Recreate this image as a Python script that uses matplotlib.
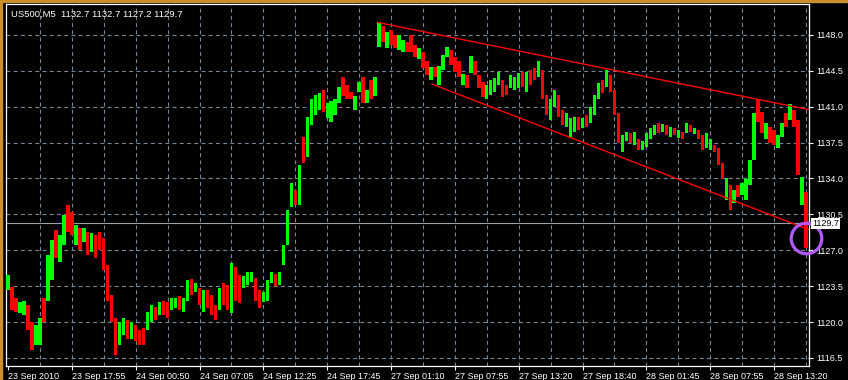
import matplotlib
matplotlib.use("Agg")
import matplotlib.pyplot as plt
import matplotlib.transforms as mtransforms
from matplotlib.patches import Rectangle
import numpy as np

# US500 M5 bars, one entry per ~4 five-minute bars
highs = [
    1124.6, 1123.4, 1122.3, 1122.0, 1122.1, 1121.7, 1120.0, 1119.7, 1120.4, 1122.3,
    1126.5, 1128.0, 1129.0, 1128.5, 1130.4, 1131.4, 1130.7, 1129.5, 1129.2, 1129.2,
    1128.8, 1128.7, 1128.5, 1128.8, 1128.2, 1125.6, 1122.6, 1120.4, 1120.0, 1120.4,
    1120.2, 1120.0, 1119.7, 1119.2, 1119.4, 1121.0, 1121.7, 1121.5, 1122.0, 1122.1,
    1122.0, 1122.3, 1122.3, 1122.5, 1122.3, 1124.1, 1124.2, 1123.8, 1123.3, 1123.1,
    1123.1, 1122.6, 1121.7, 1123.3, 1123.8, 1123.6, 1125.8, 1125.4, 1124.6, 1124.5,
    1124.9, 1124.9, 1124.3, 1123.1, 1122.9, 1124.1, 1124.9, 1124.7, 1124.9, 1127.5,
    1130.9, 1133.6, 1132.9, 1135.3, 1138.0, 1140.0, 1141.7, 1142.1, 1142.3, 1142.6,
    1141.4, 1141.5, 1141.7, 1142.9, 1143.9, 1143.1, 1142.4, 1142.0, 1143.4, 1143.9,
    1142.6, 1143.6, 1143.9, 1149.2, 1148.9, 1148.3, 1148.5, 1148.0, 1148.0, 1147.5,
    1147.3, 1148.0, 1147.0, 1146.7, 1146.3, 1145.4, 1144.9, 1144.9, 1145.0, 1146.0,
    1146.8, 1146.5, 1145.8, 1145.4, 1144.2, 1144.1, 1145.9, 1145.4, 1144.1, 1143.4,
    1143.1, 1143.6, 1143.8, 1144.4, 1143.6, 1143.1, 1144.1, 1143.9, 1144.3, 1144.4,
    1144.4, 1144.6, 1144.8, 1145.4, 1144.6, 1142.1, 1141.7, 1142.6, 1142.1, 1140.7,
    1140.4, 1139.9, 1140.0, 1140.0, 1139.9, 1140.2, 1141.0, 1142.1, 1143.3, 1143.6,
    1144.6, 1144.1, 1142.6, 1140.4, 1138.2, 1138.5, 1138.4, 1138.5, 1137.8, 1137.6,
    1138.4, 1138.9, 1139.2, 1139.4, 1139.3, 1139.2, 1139.0, 1138.9, 1138.7, 1138.5,
    1139.4, 1139.2, 1138.9, 1138.7, 1138.2, 1138.4, 1137.8, 1137.3, 1137.0, 1135.5,
    1134.0, 1133.4, 1132.9, 1133.4, 1133.6, 1133.9, 1135.8, 1140.4, 1141.7, 1140.5,
    1139.4, 1139.0, 1138.7, 1138.2, 1139.4, 1140.4, 1141.3, 1140.7, 1139.7, 1134.1,
    1132.7,
]
lows = [
    1123.1, 1121.2, 1121.0, 1120.9, 1120.7, 1119.2, 1117.3, 1117.8, 1117.8, 1120.0,
    1122.1, 1124.1, 1126.2, 1125.9, 1127.5, 1128.8, 1128.5, 1127.5, 1127.0, 1127.8,
    1126.5, 1126.8, 1126.2, 1127.0, 1125.1, 1122.1, 1120.0, 1116.8, 1117.8, 1118.7,
    1118.4, 1118.4, 1118.2, 1117.8, 1117.8, 1119.2, 1120.0, 1120.2, 1120.7, 1120.7,
    1120.4, 1121.2, 1121.4, 1121.2, 1121.0, 1122.1, 1122.6, 1122.9, 1121.7, 1121.0,
    1121.4, 1120.7, 1120.2, 1121.2, 1121.7, 1121.2, 1120.9, 1122.1, 1121.9, 1123.3,
    1123.6, 1123.9, 1122.1, 1121.4, 1122.0, 1122.1, 1123.8, 1123.5, 1123.6, 1125.6,
    1127.5, 1131.2, 1131.4, 1131.4, 1135.5, 1136.1, 1139.2, 1140.2, 1140.7, 1140.5,
    1139.9, 1139.5, 1140.2, 1141.4, 1142.0, 1141.7, 1141.7, 1140.7, 1142.4, 1141.4,
    1141.4, 1141.7, 1142.0, 1146.8, 1147.3, 1146.7, 1147.0, 1146.7, 1146.5, 1146.3,
    1146.3, 1146.3, 1145.8, 1145.6, 1144.8, 1144.1, 1143.6, 1143.9, 1143.1, 1144.6,
    1145.8, 1145.1, 1144.4, 1143.9, 1143.1, 1142.8, 1144.3, 1144.1, 1142.8, 1141.9,
    1141.7, 1142.1, 1142.4, 1143.1, 1141.9, 1142.1, 1142.8, 1142.6, 1142.8, 1142.9,
    1142.4, 1143.1, 1143.6, 1143.9, 1141.7, 1140.2, 1139.7, 1141.0, 1140.0, 1139.2,
    1139.0, 1138.0, 1138.5, 1138.7, 1138.9, 1139.0, 1139.4, 1140.2, 1141.7, 1142.3,
    1142.9, 1142.4, 1140.2, 1137.5, 1136.6, 1137.6, 1137.5, 1137.3, 1136.8, 1136.8,
    1137.1, 1137.8, 1138.2, 1138.4, 1138.5, 1138.2, 1138.0, 1138.2, 1137.9, 1137.8,
    1138.4, 1138.5, 1138.3, 1137.8, 1136.8, 1137.0, 1136.8, 1136.6, 1135.3, 1133.9,
    1131.9, 1130.9, 1131.6, 1132.2, 1132.4, 1131.9, 1133.4, 1135.8, 1139.5, 1138.4,
    1137.8, 1137.5, 1137.3, 1137.0, 1138.0, 1139.0, 1139.7, 1139.0, 1134.3, 1131.4,
    1127.2,
]
# g = bullish bar, r = bearish bar
direction = (
    "grrggrrggr" "ggrggrrgrg" "rgrrrrrrgg" "rgrrrggrgr" "rggrggrgrg"
    "rrrgrrgrrg" "ggrrgggrgg" "ggrgrggggr" "ggggrrrggr" "grggrgrrgg"
    "rrrgrrgrgg" "grrrgrgrrr" "ggggrrgggr" "grrgrrggrr" "gggrgrgggr"
    "grrrggrgrg" "gggrgrgrgr" "grgrrggrrr" "grgrggggrr" "grrggrgrrg"
    "r"
)

symbol = "US500,M5"
last_ohlc = [1132.7, 1132.7, 1127.2, 1129.7]
last_close = 1129.7

time_labels = ["23 Sep 2010", "23 Sep 17:55", "24 Sep 00:50", "24 Sep 07:05",
               "24 Sep 12:25", "24 Sep 17:45", "27 Sep 01:10", "27 Sep 07:55",
               "27 Sep 13:20", "27 Sep 18:40", "28 Sep 01:45", "28 Sep 07:55",
               "28 Sep 13:20"]
time_label_bars = [0, 16, 32, 48, 64, 80, 96, 112, 128, 144, 160, 176, 192]
price_ticks = [1116.5, 1120.0, 1123.5, 1127.0, 1130.5, 1134.0, 1137.5,
               1141.0, 1144.5, 1148.0]

# channel drawn on the chart: (bar, price) anchors
upper_trend = [(92.75, 1149.2), (200.75, 1140.7)]
lower_trend = [(106.25, 1143.2), (200.75, 1129.0)]
marker_point = (200, 1128.2)

plt.rcParams["font.family"] = ["Liberation Sans", "DejaVu Sans"]

fig = plt.figure(figsize=(8.48, 3.8), dpi=100, facecolor="black")
ax = fig.add_axes([6 / 848, 14 / 380, 803 / 848, 362 / 380], facecolor="black")

# orange window edge
fig.patches.append(Rectangle((0, 0), 2 / 848, 1, transform=fig.transFigure,
                             color="#C8912D", zorder=0))
fig.patches.append(Rectangle((0, 1 - 1.5 / 380), 1, 1.5 / 380,
                             transform=fig.transFigure, color="#C8912D", zorder=0))

x = np.arange(len(highs))
hi = np.array(highs)
lo = np.array(lows)
bar_colors = ["#00FF00" if d == "g" else "#FF0000" for d in direction]
ax.bar(x, hi - lo, bottom=lo, width=0.85, color=bar_colors, linewidth=0,
       antialiased=False, zorder=3)

ax.set_xlim(-0.5, 200.75)
ax.set_ylim(1115.72, 1151.0)

# grid
grid_kw = dict(color="#778899", linewidth=0.8, linestyle=(0, (3.5, 3)), zorder=1)
for p in price_ticks:
    ax.axhline(p, **grid_kw)
for b in range(8, 201, 8):
    ax.axvline(b, **grid_kw)

# current price line
ax.axhline(last_close, color="#9AA2AA", linewidth=0.8, zorder=2)

# trend lines
for line in (upper_trend, lower_trend):
    xs = [pt[0] for pt in line]
    ys = [pt[1] for pt in line]
    ax.plot(xs, ys, color="#FF0000", linewidth=1.0, zorder=4)

# highlight circle
ax.plot(marker_point[0], marker_point[1], marker="o", markersize=22,
        markerfacecolor="none", markeredgecolor="#B05CFF", markeredgewidth=2.3,
        clip_on=False, zorder=6)

# axes styling
for s in ax.spines.values():
    s.set_color("white")
    s.set_linewidth(0.9)
ax.yaxis.tick_right()
ax.set_yticks(price_ticks)
ax.set_yticklabels([f"{p:.1f}" for p in price_ticks])
ax.set_xticks(time_label_bars)
ax.set_xticklabels(time_labels)
for lbl in ax.get_xticklabels():
    lbl.set_horizontalalignment("left")
ax.tick_params(axis="both", colors="white", labelsize=6.5, length=3, width=0.8,
               direction="out")
ax.tick_params(axis="x", pad=1)
ax.tick_params(axis="y", pad=2)

# last price label
trans = mtransforms.blended_transform_factory(ax.transAxes, ax.transData)
ax.text(1.004, last_close - 0.1, f"{last_close:.1f}", transform=trans, ha="left",
        va="center", fontsize=6.5, color="black", clip_on=False, zorder=7,
        bbox=dict(facecolor="white", edgecolor="none", pad=0.8))

# header
header = symbol + "  " + " ".join(f"{v:.1f}" for v in last_ohlc)
ax.text(0.006, 0.985, header, transform=ax.transAxes, ha="left", va="top",
        fontsize=6.8, color="white", zorder=7)

fig.savefig("out.png", dpi=100, facecolor="black")
